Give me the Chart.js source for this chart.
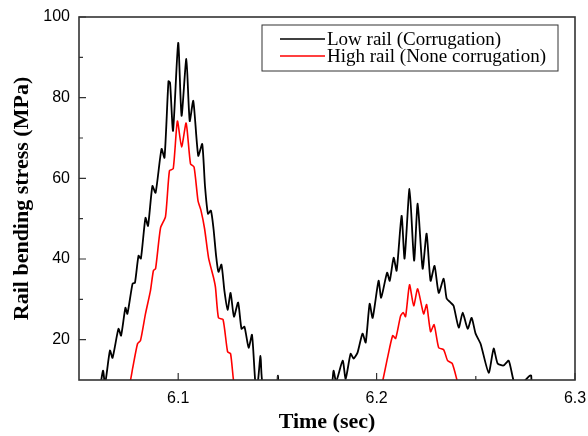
<!DOCTYPE html>
<html>
<head>
<meta charset="utf-8">
<script src="https://cdn.jsdelivr.net/npm/chart.js@4.4.1/dist/chart.umd.min.js"></script>
<style>
  html, body { margin: 0; padding: 0; background: #fff; }
  #wrap { width: 588px; height: 436px; }
</style>
</head>
<body>
<div id="wrap"><canvas id="stress-chart" width="588" height="436"></canvas></div>
<script>
// Rail bending stress vs time
const lowT = [6.0500, 6.0598, 6.0621, 6.0631, 6.0656, 6.0669, 6.0699, 6.0712, 6.0734, 6.0744,
  6.0770, 6.0782, 6.0800, 6.0812, 6.0835, 6.0848, 6.0870, 6.0886, 6.0916, 6.0931,
  6.0951, 6.0959, 6.0974, 6.1000, 6.1017, 6.1041, 6.1058, 6.1076, 6.1101, 6.1121,
  6.1135, 6.1150, 6.1165, 6.1178, 6.1191, 6.1203, 6.1218, 6.1233, 6.1249, 6.1264,
  6.1281, 6.1302, 6.1319, 6.1334, 6.1355, 6.1372, 6.1390, 6.1400, 6.1415, 6.1428,
  6.1496, 6.1503, 6.1511, 6.1768, 6.1783, 6.1796, 6.1829, 6.1844, 6.1869, 6.1884,
  6.1904, 6.1929, 6.1945, 6.1965, 6.1980, 6.2010, 6.2023, 6.2053, 6.2066, 6.2086,
  6.2101, 6.2126, 6.2141, 6.2166, 6.2189, 6.2207, 6.2232, 6.2252, 6.2272, 6.2292,
  6.2313, 6.2338, 6.2353, 6.2373, 6.2388, 6.2414, 6.2434, 6.2459, 6.2479, 6.2499,
  6.2524, 6.2565, 6.2590, 6.2610, 6.2640, 6.2666, 6.2691, 6.2716, 6.2772, 6.2779,
  6.2787, 6.3000];
const lowV = [5, 7.4, 12.3, 8.9, 17.3, 15.5, 22.7, 21.0, 27.9, 26.4,
  33.9, 34.1, 40.8, 40.1, 50.2, 48.2, 58.1, 56.4, 67.3, 65.1,
  84.1, 83.7, 71.8, 93.6, 75.5, 89.6, 74.2, 79.2, 65.6, 68.5,
  58.1, 51.2, 52.0, 47.5, 40.8, 36.8, 38.6, 32.1, 27.4, 31.6,
  25.7, 29.2, 22.7, 23.2, 18.0, 21.2, 8.6, 8.8, 16.0, 8.6,
  8.6, 11.1, 8.4, 8.6, 12.3, 9.6, 14.8, 10.3, 16.5, 15.3,
  16.8, 21.5, 19.3, 28.9, 25.4, 34.6, 30.4, 36.6, 34.6, 40.3,
  37.1, 50.7, 40.1, 57.4, 39.6, 53.7, 37.6, 46.3, 34.6, 38.3,
  31.6, 35.1, 30.2, 29.2, 28.4, 23.0, 26.7, 22.7, 25.4, 21.5,
  19.0, 11.8, 17.8, 14.1, 13.6, 14.8, 9.8, 8.4, 11.1, 11.1,
  8.4, 5];

const highT = [6.0500, 6.0749, 6.0762, 6.0770, 6.0795, 6.0810, 6.0835, 6.0860, 6.0875, 6.0886,
  6.0911, 6.0936, 6.0956, 6.0975, 6.0996, 6.1017, 6.1040, 6.1062, 6.1080, 6.1100,
  6.1115, 6.1133, 6.1153, 6.1178, 6.1188, 6.1203, 6.1226, 6.1249, 6.1264, 6.1279,
  6.1289, 6.2020, 6.2033, 6.2055, 6.2081, 6.2096, 6.2121, 6.2134, 6.2146, 6.2166,
  6.2187, 6.2207, 6.2237, 6.2252, 6.2272, 6.2290, 6.2313, 6.2338, 6.2358, 6.2381,
  6.2406, 6.2414, 6.3000];
const highV = [5, 8.4, 10.6, 12.8, 19.0, 19.8, 26.4, 32.1, 37.1, 37.6,
  47.7, 50.5, 61.9, 62.4, 74.2, 67.8, 73.7, 63.6, 62.8, 54.4,
  52.0, 47.5, 40.3, 35.4, 32.9, 25.4, 25.0, 17.0, 16.5, 9.8,
  7.9, 7.9, 10.3, 15.5, 21.0, 20.3, 25.9, 26.7, 25.7, 33.6,
  28.4, 32.6, 26.4, 28.7, 22.0, 23.7, 18.0, 17.5, 14.8, 14.1,
  9.8, 7.9, 5];

const seriesNames = ['Low rail (Corrugation)', 'High rail (None corrugation)'];
const xTicks = [6.1, 6.2, 6.3];
const xMinorTicks = [6.15, 6.25];
const yTicks = [20, 40, 60, 80, 100];
const yMinorTicks = [30, 50, 70, 90];

const pts = (t, v) => t.map((x, i) => ({ x: x, y: v[i] }));

// frame, inward ticks and boxed legend, drawn like the original plot
const framePlugin = {
  id: 'frame',
  afterDraw(chart) {
    const { ctx, chartArea: a, scales } = chart;
    ctx.save();
    ctx.strokeStyle = '#333';
    ctx.lineWidth = 1.6;
    ctx.strokeRect(a.left, a.top, a.right - a.left, a.bottom - a.top);

    ctx.lineWidth = 1.2;
    ctx.beginPath();
    xTicks.forEach(v => { const p = scales.x.getPixelForValue(v); ctx.moveTo(p, a.bottom); ctx.lineTo(p, a.bottom - 7); });
    xMinorTicks.forEach(v => { const p = scales.x.getPixelForValue(v); ctx.moveTo(p, a.bottom); ctx.lineTo(p, a.bottom - 4); });
    yTicks.forEach(v => { const p = scales.y.getPixelForValue(v); ctx.moveTo(a.left, p); ctx.lineTo(a.left + 7, p); });
    yMinorTicks.forEach(v => { const p = scales.y.getPixelForValue(v); ctx.moveTo(a.left, p); ctx.lineTo(a.left + 4, p); });
    ctx.stroke();

    // legend box
    const bx = a.right - 313, by = a.top + 8, bw = 296, bh = 46;
    ctx.fillStyle = '#fff';
    ctx.fillRect(bx, by, bw, bh);
    ctx.strokeStyle = '#333';
    ctx.lineWidth = 1;
    ctx.strokeRect(bx, by, bw, bh);
    ctx.font = '19px "Liberation Serif", "Times New Roman", serif';
    ctx.textBaseline = 'middle';
    chart.data.datasets.forEach((ds, i) => {
      const y = by + 14 + i * 17;
      ctx.strokeStyle = ds.borderColor;
      ctx.lineWidth = 1.5;
      ctx.beginPath();
      ctx.moveTo(bx + 18, y);
      ctx.lineTo(bx + 63, y);
      ctx.stroke();
      ctx.fillStyle = '#000';
      ctx.fillText(ds.label, bx + 65, y + 1);
    });
    ctx.restore();
  }
};

const ctx = document.getElementById('stress-chart').getContext('2d');
const stressChart = new Chart(ctx, {
  type: 'line',
  data: {
    datasets: [{
      label: seriesNames[0],
      data: pts(lowT, lowV),
      borderColor: '#000000',
      borderWidth: 1.8,
      pointRadius: 0,
      tension: 0.2,
      fill: false
    }, {
      label: seriesNames[1],
      data: pts(highT, highV),
      borderColor: '#ff0000',
      borderWidth: 1.6,
      pointRadius: 0,
      tension: 0.2,
      fill: false
    }]
  },
  options: {
    responsive: false,
    animation: false,
    layout: { padding: { left: 0, right: 13, top: 17, bottom: 0 } },
    plugins: {
      legend: { display: false },
      tooltip: { enabled: false }
    },
    scales: {
      x: {
        type: 'linear',
        min: 6.05,
        max: 6.3,
        afterBuildTicks: s => { s.ticks = xTicks.map(v => ({ value: v })); },
        afterFit: s => { s.height = 56; s.paddingLeft = 0; s.paddingRight = 0; },
        grid: { display: false, drawTicks: false },
        border: { display: false },
        ticks: {
          padding: 9,
          color: '#000',
          font: { family: '"Liberation Sans", Arial, sans-serif', size: 16 },
          callback: v => v.toFixed(1)
        },
        title: {
          display: true,
          text: 'Time (sec)',
          color: '#000',
          padding: { top: 4, bottom: 0 },
          font: { family: '"Liberation Serif", "Times New Roman", serif', size: 22, weight: 'bold' }
        }
      },
      y: {
        min: 10,
        max: 100,
        afterBuildTicks: s => { s.ticks = yTicks.map(v => ({ value: v })); },
        afterFit: s => { s.width = 79; s.paddingTop = 0; s.paddingBottom = 0; },
        grid: { display: false, drawTicks: false },
        border: { display: false },
        ticks: {
          padding: 9,
          color: '#000',
          font: { family: '"Liberation Sans", Arial, sans-serif', size: 16 }
        },
        title: {
          display: true,
          text: 'Rail bending stress (MPa)',
          color: '#000',
          padding: { top: 9, bottom: 0 },
          font: { family: '"Liberation Serif", "Times New Roman", serif', size: 22, weight: 'bold' }
        }
      }
    }
  },
  plugins: [framePlugin]
});
</script>
</body>
</html>
